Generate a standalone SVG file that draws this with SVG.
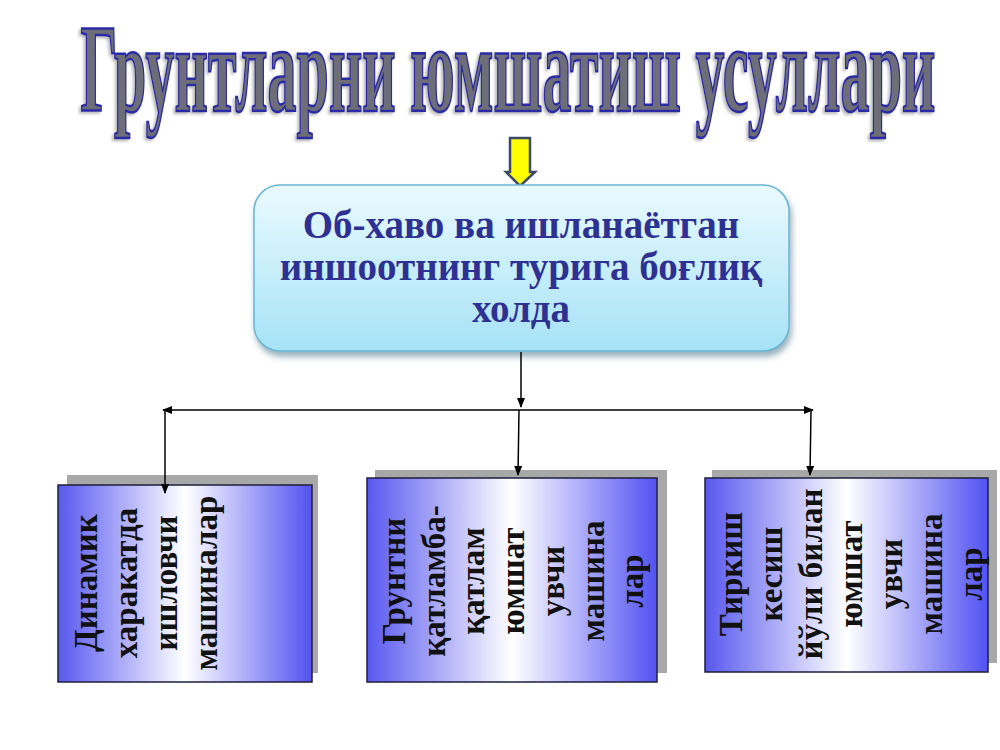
<svg xmlns="http://www.w3.org/2000/svg" width="1000" height="750" viewBox="0 0 1000 750">
<defs>
<style>
.title{font-family:"Liberation Serif","Times New Roman",serif;font-weight:bold;font-size:60px;fill:#6e6e78;stroke:#2b2ba6;stroke-width:2;}
.top{font-family:"Liberation Serif","Times New Roman",serif;font-weight:bold;font-size:39px;fill:#2e3192;text-anchor:middle;}
.vt{font-family:"Liberation Serif","Times New Roman",serif;font-weight:bold;font-size:33px;fill:#111;text-anchor:middle;}
.box{stroke:#1e1e3c;stroke-width:1.5;fill:url(#bgrad);}
.shadow{fill:#a8a8a8;}
.conn{stroke:#000;stroke-width:1.5;fill:none;marker-end:url(#arr);}
</style>
<linearGradient id="bgrad" x1="0" y1="0" x2="1" y2="0">
<stop offset="0" stop-color="#5858f0"/>
<stop offset="0.5" stop-color="#ffffff"/>
<stop offset="1" stop-color="#5252f2"/>
</linearGradient>
<linearGradient id="tgrad" x1="0" y1="0" x2="0" y2="1">
<stop offset="0" stop-color="#eafafe"/>
<stop offset="1" stop-color="#a6e2f6"/>
</linearGradient>
<filter id="ds" x="-10%" y="-10%" width="130%" height="140%">
<feDropShadow dx="2" dy="5" stdDeviation="3" flood-color="#6a8fa0" flood-opacity="0.7"/>
</filter>
<filter id="ts" filterUnits="userSpaceOnUse" x="0" y="0" width="1000" height="160">
<feDropShadow dx="-2" dy="2" stdDeviation="1.5" flood-color="#888" flood-opacity="0.6"/>
</filter>
<marker id="arr" markerWidth="10" markerHeight="8" refX="9" refY="4" orient="auto" markerUnits="userSpaceOnUse">
<path d="M0,0 L10,4 L0,8 Z" fill="#000"/>
</marker>
</defs>
<rect width="1000" height="750" fill="#fff"/>

<g id="title" filter="url(#ts)">
<text class="title" transform="translate(508,111) scale(0.968,2.075)" x="0" y="0" text-anchor="middle" vector-effect="non-scaling-stroke">Грунтларни юмшатиш усуллари</text>
</g>

<g id="yellow-arrow">
<path d="M510,138 L530,138 L530,172 L535,172 L520,186 L506,172 L510,172 Z" fill="#ffff00" stroke="#3c4a6a" stroke-width="2.5" stroke-linejoin="miter"/>
</g>

<g id="top-box">
<rect x="254" y="185" width="535" height="166" rx="26" ry="26" fill="url(#tgrad)" stroke="#6bb5d4" stroke-width="1.5" filter="url(#ds)"/>
<text class="top" x="521" y="238">Об-хаво ва ишланаётган</text>
<text class="top" x="521" y="280">иншоотнинг турига боғлиқ</text>
<text class="top" x="521" y="322">холда</text>
</g>

<g id="box-left">
<rect class="shadow" x="67" y="475" width="251" height="198"/>
<rect class="box" x="58" y="485" width="254" height="197"/>
<text class="vt" transform="translate(97,583) rotate(-90)"><tspan x="0" y="0">Динамик</tspan><tspan x="0" dy="40">харакатда</tspan><tspan x="0" dy="40">ишловчи</tspan><tspan x="0" dy="40">машиналар</tspan></text>
</g>

<g id="box-middle">
<rect class="shadow" x="375" y="470" width="292" height="203"/>
<rect class="box" x="367" y="478" width="290" height="204"/>
<text class="vt" transform="translate(405,581) rotate(-90)"><tspan x="0" y="0">Грунтни</tspan><tspan x="0" dy="39.7">қатламба-</tspan><tspan x="0" dy="39.7">қатлам</tspan><tspan x="0" dy="39.7">юмшат</tspan><tspan x="0" dy="39.7">увчи</tspan><tspan x="0" dy="39.7">машина</tspan><tspan x="0" dy="39.7">лар</tspan></text>
</g>

<g id="box-right">
<rect class="shadow" x="712" y="470" width="285" height="193"/>
<rect class="box" x="705" y="478" width="283" height="194"/>
<text class="vt" transform="translate(742,574) rotate(-90)"><tspan x="0" y="0">Тиркиш</tspan><tspan x="0" dy="40">кесиш</tspan><tspan x="0" dy="40">йўли билан</tspan><tspan x="0" dy="40">юмшат</tspan><tspan x="0" dy="40">увчи</tspan><tspan x="0" dy="40">машина</tspan><tspan x="0" dy="40">лар</tspan></text>
</g>

<g id="connectors">
<line class="conn" x1="521" y1="352" x2="521" y2="407"/>
<line class="conn" x1="521" y1="410" x2="163" y2="410"/>
<line class="conn" x1="521" y1="410" x2="813" y2="410"/>
<line class="conn" x1="165" y1="410" x2="165" y2="493"/>
<line class="conn" x1="519" y1="410" x2="518" y2="475"/>
<line class="conn" x1="811" y1="410" x2="810" y2="475"/>
</g>
</svg>
